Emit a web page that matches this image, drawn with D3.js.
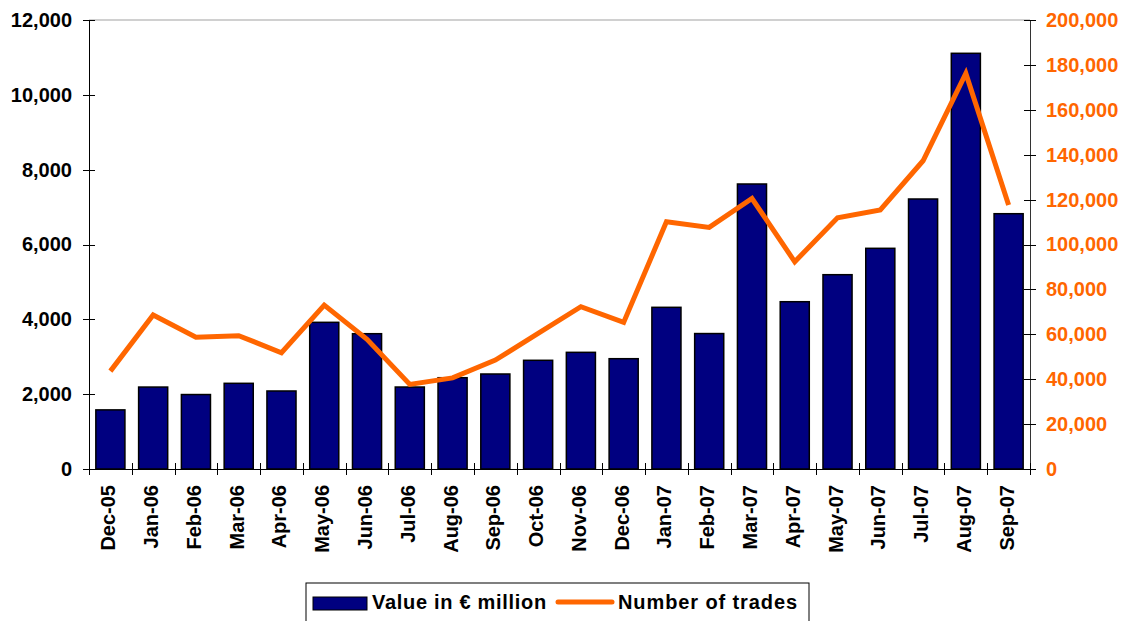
<!DOCTYPE html>
<html>
<head>
<meta charset="utf-8">
<script src="https://cdn.jsdelivr.net/npm/d3@7"></script>
<style>
  body { margin: 0; background: #fff; }
  svg { display: block; font-family: Arial, "Liberation Sans", sans-serif; }
  .axis path, .axis line { shape-rendering: crispEdges; }
</style>
</head>
<body>
<div id="chart"></div>
<script>
// Chart data
const months = ["Dec-05","Jan-06","Feb-06","Mar-06","Apr-06","May-06","Jun-06","Jul-06","Aug-06","Sep-06","Oct-06","Nov-06","Dec-06","Jan-07","Feb-07","Mar-07","Apr-07","May-07","Jun-07","Jul-07","Aug-07","Sep-07"];
const valueMillions = [1580,2190,1990,2290,2085,3920,3616,2191,2440,2539,2905,3118,2948,4321,3620,7617,4471,5193,5898,7216,11110,6823];
const tradeCounts = [43600,68600,58700,59400,51800,73000,57800,37700,40600,48500,60400,72300,65300,110100,107600,120500,92300,111900,115400,137300,176200,117600];
const leftTicks = [0,2000,4000,6000,8000,10000,12000];
const rightTicks = [0,20000,40000,60000,80000,100000,120000,140000,160000,180000,200000];
const legendLabels = ["Value in \u20AC million","Number of trades"];

// Set dimensions and margins
const width = 1129;
const height = 621;
const margin = {left: 89, right: 99, top: 20, bottom: 152};
const barColor = "#000080";
const lineColor = "#FF6600";

const svg = d3.select("#chart")
  .append("svg")
  .attr("width", width)
  .attr("height", height);

// Scales
const xScale = d3.scaleBand()
  .domain(months)
  .range([margin.left, width - margin.right])
  .paddingInner(0.32)
  .paddingOuter(0.16);

const xEdges = d3.scaleLinear()
  .domain([0, months.length])
  .range([margin.left, width - margin.right]);

const yLeft = d3.scaleLinear()
  .domain([0, 12000])
  .range([height - margin.bottom, margin.top]);

const yRight = d3.scaleLinear()
  .domain([0, 200000])
  .range([height - margin.bottom, margin.top]);

const fmt = d3.format(",");

// Top grid line
svg.append("line")
  .attr("x1", margin.left)
  .attr("x2", width - margin.right)
  .attr("y1", yLeft(12000))
  .attr("y2", yLeft(12000))
  .attr("stroke", "#c0c0c0")
  .attr("stroke-width", 1.5);

// Bars
svg.selectAll(".bar")
  .data(months)
  .enter()
  .append("rect")
    .attr("class", "bar")
    .attr("x", d => xScale(d))
    .attr("y", (d, i) => yLeft(valueMillions[i]))
    .attr("width", xScale.bandwidth())
    .attr("height", (d, i) => yLeft(0) - yLeft(valueMillions[i]))
    .attr("fill", barColor)
    .attr("stroke", "#000")
    .attr("stroke-width", 1.5);

// Left axis
const gLeft = svg.append("g")
  .attr("class", "axis")
  .attr("transform", `translate(${margin.left},0)`)
  .call(d3.axisLeft(yLeft).tickValues(leftTicks).tickFormat(fmt).tickSize(6).tickPadding(11));
gLeft.select(".domain").attr("stroke", "#000").attr("stroke-width", 1.5);
gLeft.selectAll(".tick line").attr("x1", 6).attr("x2", -6).attr("stroke", "#000");
gLeft.selectAll(".tick text")
  .attr("font-size", "20px").attr("font-weight", "bold").attr("fill", "#000")
  .attr("font-family", "Arial, 'Liberation Sans', sans-serif");

// Right axis
const gRight = svg.append("g")
  .attr("class", "axis")
  .attr("transform", `translate(${width - margin.right},0)`)
  .call(d3.axisRight(yRight).tickValues(rightTicks).tickFormat(fmt).tickSize(6).tickPadding(10));
gRight.select(".domain").attr("stroke", "#333").attr("stroke-width", 1.5);
gRight.selectAll(".tick line").attr("x1", -6).attr("x2", 6).attr("stroke", "#000");
gRight.selectAll(".tick text")
  .attr("font-size", "20px").attr("font-weight", "bold").attr("fill", lineColor)
  .attr("font-family", "Arial, 'Liberation Sans', sans-serif");

// Bottom axis: boundary ticks
const gBottom = svg.append("g")
  .attr("class", "axis")
  .attr("transform", `translate(0,${yLeft(0)})`)
  .call(d3.axisBottom(xEdges).tickValues(d3.range(months.length + 1)).tickFormat("").tickSize(6));
gBottom.select(".domain").attr("stroke", "#000").attr("stroke-width", 1.5);
gBottom.selectAll(".tick line").attr("y1", -6).attr("y2", 6).attr("stroke", "#000");

// Bottom axis: month labels, rotated
const gLabels = svg.append("g")
  .attr("transform", `translate(0,${yLeft(0)})`)
  .call(d3.axisBottom(xScale).tickSize(0).tickPadding(0));
gLabels.select(".domain").remove();
gLabels.selectAll(".tick text")
  .attr("font-size", "20px").attr("font-weight", "bold").attr("fill", "#000")
  .attr("font-family", "Arial, 'Liberation Sans', sans-serif")
  .attr("text-anchor", "end")
  .attr("transform", "rotate(-90)")
  .attr("x", -16)
  .attr("y", -2)
  .attr("dy", "0.35em");

// Trades line
const line = d3.line()
  .x((d, i) => xScale(months[i]) + xScale.bandwidth() / 2)
  .y(d => yRight(d));

svg.append("path")
  .datum(tradeCounts)
  .attr("fill", "none")
  .attr("stroke", lineColor)
  .attr("stroke-width", 5)
  .attr("stroke-linejoin", "miter")
  .attr("d", line);

// Legend
const legend = svg.append("g").attr("transform", "translate(306,583)");
legend.append("rect")
  .attr("x", 0).attr("y", 0)
  .attr("width", 503).attr("height", 50)
  .attr("fill", "#fff")
  .attr("stroke", "#000")
  .attr("stroke-width", 1);
legend.append("rect")
  .attr("x", 7).attr("y", 14)
  .attr("width", 54).attr("height", 13)
  .attr("fill", barColor)
  .attr("stroke", "#000")
  .attr("stroke-width", 1);
legend.append("text")
  .attr("x", 66).attr("y", 19)
  .attr("dy", "0.35em")
  .attr("font-size", "20px").attr("font-weight", "bold")
  .attr("letter-spacing", "0.7px")
  .text(legendLabels[0]);
legend.append("line")
  .attr("x1", 252).attr("x2", 306)
  .attr("y1", 19).attr("y2", 19)
  .attr("stroke", lineColor)
  .attr("stroke-width", 5)
  .attr("stroke-linecap", "round");
legend.append("text")
  .attr("x", 312).attr("y", 19)
  .attr("dy", "0.35em")
  .attr("font-size", "20px").attr("font-weight", "bold")
  .attr("letter-spacing", "0.9px")
  .text(legendLabels[1]);
</script>
</body>
</html>
